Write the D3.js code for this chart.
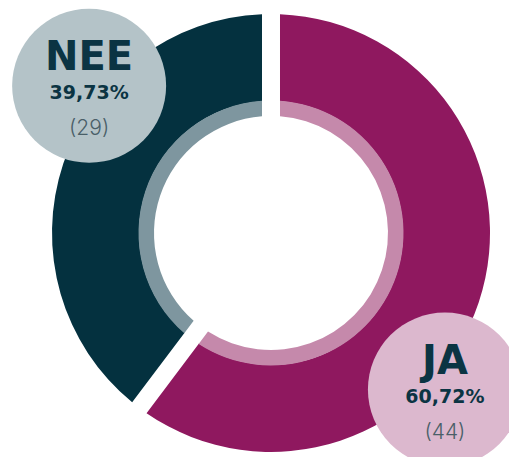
<!DOCTYPE html>
<html lang="en">
  <head>
    <meta charset="UTF-8">
    <title>JA / NEE</title>
    <style>
      html, body { margin: 0; padding: 0; background: #fff; }
    </style>
  </head>
  <body>
    <svg id="chart" width="509" height="457"></svg>

    <script src="https://cdn.jsdelivr.net/npm/d3@7/dist/d3.min.js"></script>
    <script>
      // datos del grafico
      var categorias = ["JA", "NEE"];
      var cantidades = [44, 29];
      var porcentajes = ["60,72%", "39,73%"];

      // colores por categoria
      var colorFuerte = ["#8f185f", "#04313f"];
      var colorSuave = ["#c589ab", "#7e969f"];
      var colorEtiqueta = ["#dcb8ce", "#b4c3c8"];

      var svg = d3.select("#chart"),
        width = +svg.attr("width"),
        height = +svg.attr("height"),
        cx = 271, cy = 233,
        rOut = 219, rMid = 132, rIn = 117,
        hueco = 18; // ancho de la separacion entre porciones

      var datos = categorias.map(function (c, i) {
        return {nombre: c, valor: cantidades[i], pct: porcentajes[i], i: i};
      });

      var pie = d3.pie().sort(null).value(function (d) { return d.valor; });
      var arcos = pie(datos);

      var arcoFuerte = d3.arc().innerRadius(rMid).outerRadius(rOut)
        .padRadius(rOut).padAngle(hueco / rOut);
      var arcoSuave = d3.arc().innerRadius(rIn).outerRadius(rMid + 0.5)
        .padRadius(rOut).padAngle(hueco / rOut);

      var g = svg.append("g").attr("transform", "translate(" + cx + "," + cy + ")");

      g.selectAll("path.fuerte").data(arcos).enter().append("path")
        .attr("class", "fuerte")
        .attr("d", arcoFuerte)
        .attr("fill", function (d) { return colorFuerte[d.data.i]; });

      g.selectAll("path.suave").data(arcos).enter().append("path")
        .attr("class", "suave")
        .attr("d", arcoSuave)
        .attr("fill", function (d) { return colorSuave[d.data.i]; });

      // etiquetas en circulos, algo giradas respecto al centro de la porcion (grados)
      var distEtiqueta = 234, giro = [23.5, 20.5], rEtiqueta = 77;

      var etiquetas = g.selectAll("g.etiqueta").data(arcos).enter().append("g")
        .attr("class", "etiqueta")
        .attr("transform", function (d) {
          var a = (d.startAngle + d.endAngle) / 2 + giro[d.data.i] * Math.PI / 180;
          return "translate(" + (Math.sin(a) * distEtiqueta) + "," + (-Math.cos(a) * distEtiqueta) + ")";
        });

      etiquetas.append("circle")
        .attr("r", rEtiqueta)
        .attr("fill", function (d) { return colorEtiqueta[d.data.i]; });

      etiquetas.append("text")
        .attr("y", -16)
        .attr("text-anchor", "middle")
        .attr("font-family", "'DejaVu Sans', sans-serif")
        .attr("font-weight", 700)
        .attr("font-size", 40)
        .attr("fill", "#0b3443")
        .text(function (d) { return d.data.nombre; });

      etiquetas.append("text")
        .attr("y", 13)
        .attr("text-anchor", "middle")
        .attr("font-family", "'DejaVu Sans', sans-serif")
        .attr("font-weight", 700)
        .attr("font-size", 19)
        .attr("fill", "#0b3443")
        .text(function (d) { return d.data.pct; });

      etiquetas.append("text")
        .attr("y", 49)
        .attr("text-anchor", "middle")
        .attr("font-family", "Inter, 'Noto Sans', sans-serif")
        .attr("font-weight", 300)
        .attr("font-size", 21)
        .attr("fill", "#4a5f68")
        .text(function (d) { return "(" + d.data.valor + ")"; });
    </script>
  </body>
</html>
